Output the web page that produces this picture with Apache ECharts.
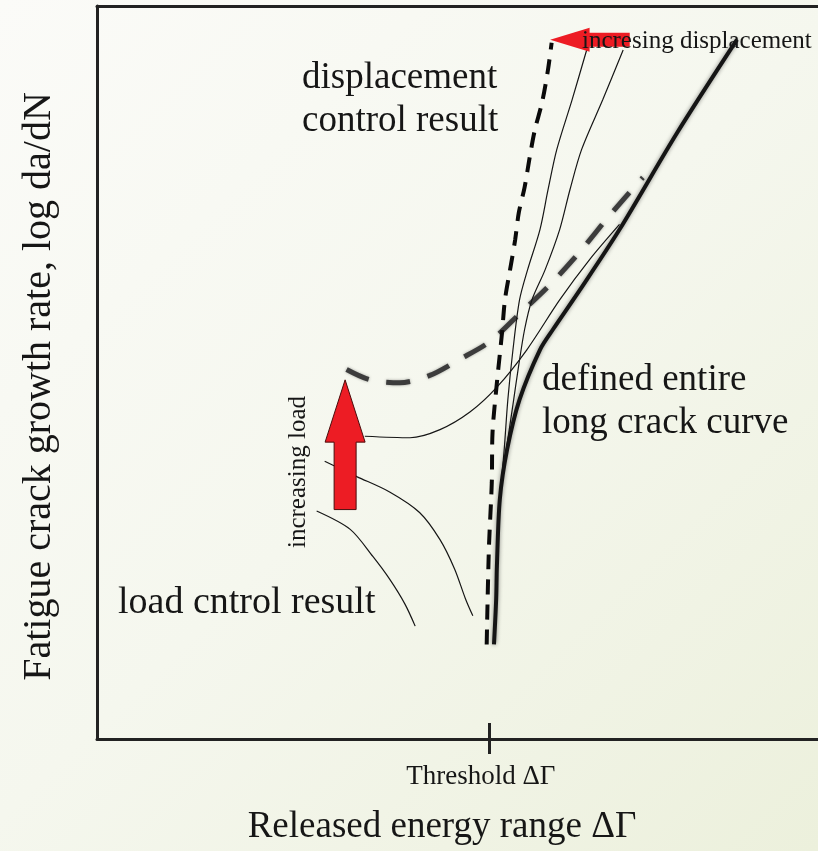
<!DOCTYPE html>
<html><head><meta charset="utf-8">
<script src="https://cdn.jsdelivr.net/npm/echarts@6/dist/echarts.min.js"></script>
<style>html,body{margin:0;padding:0;background:#f6f7ef;}#c{width:818px;height:851px;}</style>
</head><body><div id="c"></div>
<script>
// ---- data (arbitrary schematic units, x: released energy range, y: log da/dN) ----
const thresholdX = [53.7];
const thresholdLabels = ['Threshold ΔΓ'];
const longCrackCurve = [[54.4,12.9],[54.7,19.1],[54.8,23.6],[55.2,32.7],[56.2,39.5],[57.9,46.3],[60.7,53.1],[62.5,55.9],[66.2,61.3],[71.6,69.5],[79.5,82.7],[87.7,95.4]];
const dispCurveA = [[67.1,94.0],[65.1,87.2],[63.0,80.4],[61.8,74.9],[60.7,69.5],[59.0,64.0],[57.9,59.9],[57.0,53.1],[56.3,46.3],[55.8,39.5],[55.2,32.7]];
const dispCurveB = [[72.1,94.0],[69.3,87.2],[66.4,80.4],[64.8,74.9],[63.4,69.5],[61.4,64.0],[59.6,59.9],[58.6,55.9],[57.7,50.4],[57.1,46.3],[56.3,40.9],[55.9,38.1]];
const dispControlEnvelope = [[53.4,12.9],[53.7,25.9],[54.1,35.0],[54.2,41.8],[54.8,48.6],[55.5,55.4],[55.9,59.9],[56.6,64.0],[57.3,68.1],[57.8,71.8],[58.6,75.3],[59.3,79.4],[60.0,83.1],[61.0,86.9],[61.8,91.3],[62.3,95.0]];
const loadControlEnvelope = [[34.2,50.4],[37.4,49.0],[41.5,48.6],[45.6,49.6],[49.7,51.8],[53.8,54.2],[57.9,58.0],[62.1,62.0],[66.2,66.5],[70.3,71.5],[74.8,76.6]];
const loadCurve1 = [[36.7,41.3],[42.9,41.1],[47.0,42.2],[51.1,44.6],[54.8,48.0],[58.9,53.1],[63.4,59.9],[67.5,65.4],[71.6,70.2]];
const loadCurve2 = [[31.2,37.9],[35.6,35.8],[40.1,33.7],[44.2,30.9],[47.0,27.2],[49.0,23.2],[50.5,19.1],[51.5,16.8]];
const loadCurve3 = [[30.1,31.1],[34.7,28.6],[37.8,24.9],[40.1,21.8],[42.2,18.4],[43.6,15.4]];
// arrows: [along-axis position, tail, head base, tip]
const loadArrow = [[34.0, 31.3, 40.5, 49.0]];          // vertical: x, yTail, yHeadBase, yTip
const dispArrow = [[95.4, 73.0, 67.5, 62.1]];          // horizontal: y, xTail, xHeadBase, xTip

const SERIF = '"Liberation Serif", "Times New Roman", serif';
const INK = '#161616';

const chart = echarts.init(document.getElementById('c'), null, {renderer: 'canvas'});

function thinLine(data) {
  return {type: 'line', data, smooth: 0.3, symbol: 'none', silent: true, z: 3,
    lineStyle: {color: INK, width: 1.2}};
}
const frameLine = {show: true, lineStyle: {color: '#222', width: 3}};

const option = {
  animation: false,
  backgroundColor: new echarts.graphic.LinearGradient(0, 0, 1, 1, [
    {offset: 0, color: '#fbfbf8'}, {offset: 0.5, color: '#f5f7ee'}, {offset: 1, color: '#ecf0dc'}
  ]),
  grid: {left: 97, right: 0, top: 6, bottom: 111, show: false},
  xAxis: [{
    type: 'value', min: 0, max: 98.8, position: 'bottom',
    axisLine: frameLine, splitLine: {show: false},
    axisTick: {show: true, customValues: thresholdX, length: 15, inside: false, lineStyle: {color: '#222', width: 3}},
    axisLabel: {show: true, customValues: thresholdX, formatter: () => thresholdLabels[0], margin: 24,
      fontFamily: SERIF, fontSize: 27, color: INK, padding: [0, 16, 0, 0]},
    name: 'Released energy range ΔΓ', nameLocation: 'middle', nameGap: 70,
    nameTextStyle: {fontFamily: SERIF, fontSize: 37, color: INK, padding: [0, 31, 0, 0]}
  }, {
    type: 'value', min: 0, max: 98.8, position: 'bottom', offset: 0,
    axisLine: {show: false}, splitLine: {show: false}, axisLabel: {show: false},
    axisTick: {show: true, customValues: thresholdX, length: 16, inside: true, lineStyle: {color: '#222', width: 3}}
  }, {
    type: 'value', min: 0, max: 98.8, position: 'top',
    axisLine: frameLine, splitLine: {show: false}, axisLabel: {show: false}, axisTick: {show: false}
  }],
  yAxis: {
    type: 'value', min: 0, max: 100,
    axisLine: frameLine, axisTick: {show: false}, axisLabel: {show: false}, splitLine: {show: false},
    name: 'Fatigue crack growth rate, log da/dN', nameLocation: 'middle', nameGap: 38,
    nameTextStyle: {fontFamily: SERIF, fontSize: 40, color: INK, padding: [0, 28, 0, 0]}
  },
  series: [
    {type: 'line', data: loadControlEnvelope, smooth: 0.3, symbol: 'none', silent: true, z: 2,
      lineStyle: {color: '#3c3c3c', width: 5, type: [24, 18], shadowColor: 'rgba(0,0,0,0.35)', shadowBlur: 3}},
    thinLine(loadCurve1), thinLine(loadCurve2), thinLine(loadCurve3),
    thinLine(dispCurveA), thinLine(dispCurveB),
    {type: 'line', data: dispControlEnvelope, smooth: 0.3, symbol: 'none', silent: true, z: 4,
      lineStyle: {color: '#0a0a0a', width: 4, type: [15, 10]}},
    {type: 'line', data: longCrackCurve, smooth: 0.3, symbol: 'none', silent: true, z: 5,
      lineStyle: {color: '#151515', width: 4, shadowColor: 'rgba(0,0,0,0.45)', shadowBlur: 4}},
    {type: 'custom', data: loadArrow, silent: true, z: 6, clip: false,
      renderItem: function (params, api) {
        const x = api.value(0);
        const tail = api.coord([x, api.value(1)]);
        const base = api.coord([x, api.value(2)]);
        const tip = api.coord([x, api.value(3)]);
        const cx = tail[0], sw = 11, hw = 20;
        return {type: 'polygon', shape: {points: [
          [cx - sw, tail[1]], [cx - sw, base[1]], [cx - hw, base[1]], [cx, tip[1]],
          [cx + hw, base[1]], [cx + sw, base[1]], [cx + sw, tail[1]]]},
          style: {fill: '#ED1C24', stroke: '#4a0c0c', lineWidth: 1}};
      }},
    {type: 'custom', data: dispArrow, silent: true, z: 6, clip: false,
      renderItem: function (params, api) {
        const y = api.value(0);
        const tail = api.coord([api.value(1), y]);
        const base = api.coord([api.value(2), y]);
        const tip = api.coord([api.value(3), y]);
        const cy = tail[1], sh = 7, hh = 12;
        return {type: 'polygon', shape: {points: [
          [tail[0], cy - sh], [base[0], cy - sh], [base[0], cy - hh], [tip[0], cy],
          [base[0], cy + hh], [base[0], cy + sh], [tail[0], cy + sh]]},
          style: {fill: '#ED1C24'}};
      }}
  ],
  graphic: [
    {type: 'text', x: 302, y: 78, z: 10, style: {text: 'displacement', font: '37px ' + SERIF, fill: INK, verticalAlign: 'middle'}},
    {type: 'text', x: 302, y: 121, z: 10, style: {text: 'control result', font: '37px ' + SERIF, fill: INK, verticalAlign: 'middle'}},
    {type: 'text', x: 542, y: 380, z: 10, style: {text: 'defined entire', font: '37px ' + SERIF, fill: INK, verticalAlign: 'middle'}},
    {type: 'text', x: 542, y: 423, z: 10, style: {text: 'long crack curve', font: '37px ' + SERIF, fill: INK, verticalAlign: 'middle'}},
    {type: 'text', x: 118, y: 603, z: 10, style: {text: 'load cntrol result', font: '38px ' + SERIF, fill: INK, verticalAlign: 'middle'}},
    {type: 'text', x: 582, y: 41, z: 10, style: {text: 'incresing displacement', font: '25px ' + SERIF, fill: INK, verticalAlign: 'middle'}},
    {type: 'text', x: 298, y: 472, z: 10, rotation: Math.PI / 2, style: {text: 'increasing load', font: '25px ' + SERIF, fill: INK, align: 'center', verticalAlign: 'middle'}}
  ]
};
chart.setOption(option);
</script>
</body></html>
